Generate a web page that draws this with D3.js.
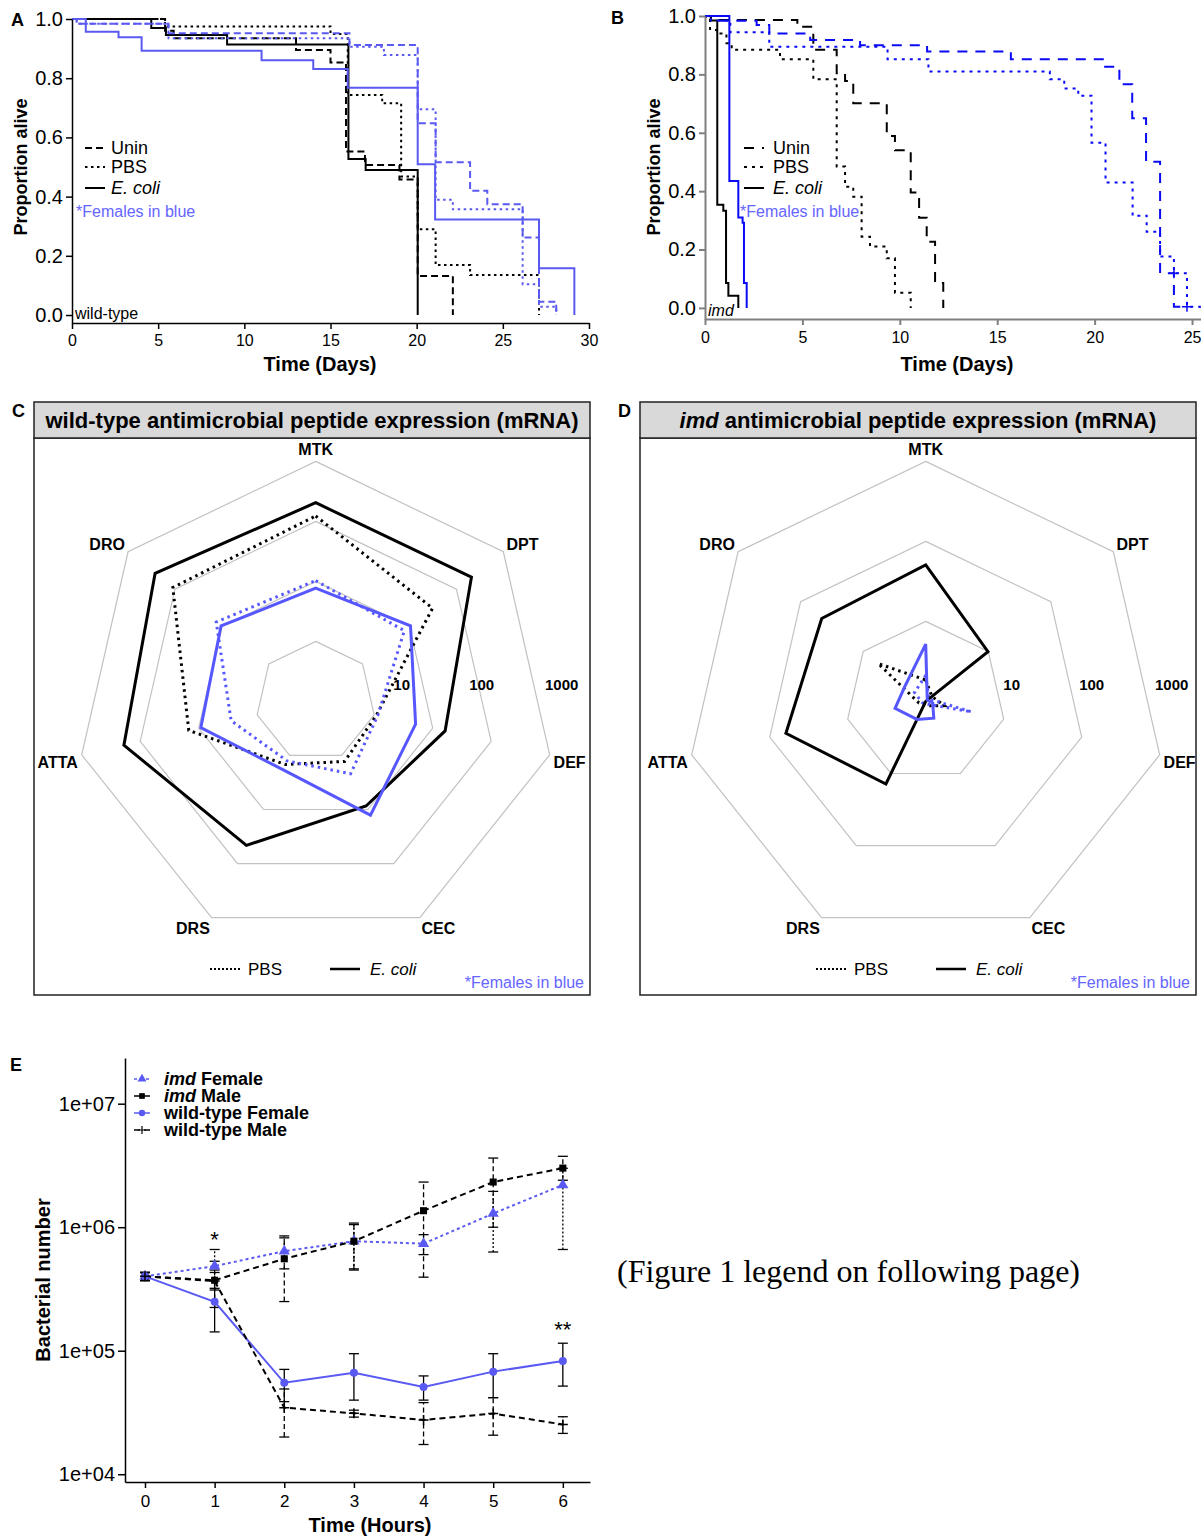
<!DOCTYPE html>
<html>
<head>
<meta charset="utf-8">
<script src="https://cdn.jsdelivr.net/npm/d3@7"></script>
<style>
  body { margin: 0; background: #fff; }
</style>
</head>
<body>
<svg id="fig" width="1201" height="1537"></svg>
<script>
// ---------------- data ----------------
// Panel A: wild-type survival (time in days, proportion alive)
const wtMaleUninT = [0, 5.4, 5.9, 13, 15, 15.9, 17, 19, 20.06, 22.1];
const wtMaleUninS = [1, 0.96, 0.935, 0.895, 0.853, 0.552, 0.507, 0.458, 0.132, 0];
const wtMalePbsT = [0, 5.4, 15, 16, 18, 19.1, 20.06, 21.1, 23.1, 27.1];
const wtMalePbsS = [1, 0.975, 0.949, 0.743, 0.715, 0.468, 0.29, 0.169, 0.135, 0];
const wtMaleEcoliT = [0, 4.6, 5.45, 9, 16.04, 17.04, 20.06];
const wtMaleEcoliS = [1, 0.97, 0.946, 0.914, 0.527, 0.49, 0];
const wtFemUninT = [0, 0.27, 5.6, 16.1, 20.06, 21.1, 23.1, 24.1, 26.15, 27.1, 28.1];
const wtFemUninS = [1, 0.984, 0.952, 0.912, 0.648, 0.516, 0.42, 0.374, 0.262, 0.045, 0];
const wtFemPbsT = [0, 0.27, 5.6, 16.1, 18.1, 20.06, 21.1, 22.1, 26.15, 27.1, 28.1];
const wtFemPbsS = [1, 0.984, 0.935, 0.906, 0.878, 0.695, 0.389, 0.357, 0.104, 0.028, 0];
const wtFemEcoliT = [0, 0.8, 2.7, 4.04, 11.0, 14.0, 16.0, 20.06, 21.07, 27.1, 29.15];
const wtFemEcoliS = [1, 0.957, 0.938, 0.893, 0.861, 0.831, 0.768, 0.509, 0.323, 0.158, 0];

// Panel B: imd survival
const imdMaleUninT = [0, 0.3, 4.74, 5.56, 6.76, 7.19, 7.61, 9.33, 9.75, 10.56, 10.99, 11.38, 11.81, 12.23];
const imdMaleUninS = [1, 0.986, 0.963, 0.884, 0.804, 0.777, 0.701, 0.589, 0.54, 0.395, 0.309, 0.227, 0.085, 0];
const imdMalePbsT = [0, 0.05, 0.26, 0.6, 1.1, 1.37, 3.85, 5.56, 6.76, 7.19, 7.61, 8.04, 8.47, 9.33, 9.75, 10.56];
const imdMalePbsS = [1, 0.99, 0.952, 0.94, 0.907, 0.884, 0.852, 0.783, 0.484, 0.415, 0.381, 0.244, 0.21, 0.17, 0.052, 0];
const imdMaleEcoliT = [0, 0.3, 0.63, 0.94, 1.08, 1.2, 1.71];
const imdMaleEcoliS = [1, 0.985, 0.353, 0.333, 0.085, 0.042, 0];
const imdFemUninT = [0, 0.5, 2.65, 3.3, 5.4, 7.96, 11.4, 15.7, 20.54, 21.27, 21.93, 22.64, 23.36, 24.07, 24.74];
const imdFemUninS = [1, 0.984, 0.969, 0.94, 0.918, 0.90, 0.878, 0.852, 0.826, 0.766, 0.65, 0.501, 0.119, 0.004, 0];
const imdFemPbsT = [0, 0.3, 1.3, 3.3, 9.37, 11.47, 17.7, 18.44, 19.16, 19.84, 20.56, 21.95, 22.67, 23.36, 24.07, 24.74, 25.4];
const imdFemPbsS = [1, 0.985, 0.944, 0.895, 0.852, 0.81, 0.783, 0.752, 0.727, 0.566, 0.43, 0.316, 0.261, 0.176, 0.119, 0.004, 0];
const imdFemEcoliT = [0, 1.25, 1.71, 1.93, 2.0, 2.14];
const imdFemEcoliS = [1, 0.435, 0.31, 0.292, 0.085, 0];
const imdFemCensorT = [24.07, 24.74];
const imdFemCensorS = [0.119, 0.004];

// Panels C, D: antimicrobial peptide expression (fold, log scale)
const apAxes = ["MTK", "DPT", "DEF", "CEC", "DRS", "ATTA", "DRO"];
const ringTicks = [10, 100, 1000];
const wtMaleEcoliAmp = [205, 209, 16.3, 8.6, 46, 190, 265];
const wtMalePbsAmp = [123, 31, 1.09, 1.29, 1.47, 14.8, 111];
const wtFemEcoliAmp = [7.7, 10.5, 5.1, 12.7, 1.83, 9.2, 10.4];
const wtFemPbsAmp = [10.3, 7.76, 1.15, 2.18, 1.26, 2.79, 13.2];
const imdMaleEcoliAmp = [50.7, 9.9, 1, 1, 14, 62, 46];
const imdMalePbsAmp = [1.85, 1.26, 1.73, 1.15, 1.12, 1.22, 5.74];
const imdFemEcoliAmp = [5.2, 1.06, 1.23, 1.71, 1.78, 2.47, 2.11];
const imdFemPbsAmp = [2.11, 1.12, 3.87, 1.09, 1.09, 1.12, 1.51];

// Panel E: bacterial load (hours)
const hours = [0, 1, 2, 3, 4, 5, 6];
const imdFem = [4.0e5, 4.84e5, 6.4e5, 7.7e5, 7.36e5, 1.29e6, 2.2e6];
const imdFemLo = [3.7e5, 5.3e5, 4.6e5, 4.5e5, 6.0e5, 6.3e5, 6.6e5];
const imdFemHi = [4.3e5, 6.6e5, 8.5e5, 1.08e6, 8.7e5, 1.95e6, 3.0e6];
const imdMale = [4.0e5, 3.72e5, 5.55e5, 7.7e5, 1.36e6, 2.32e6, 3.01e6];
const imdMaleLo = [3.7e5, 3.1e5, 2.5e5, 4.6e5, 3.94e5, 1.0e6, 2.4e6];
const imdMaleHi = [4.3e5, 4.5e5, 8.2e5, 1.05e6, 2.32e6, 3.63e6, 3.75e6];
const wtFem = [4.0e5, 2.49e5, 5.5e4, 6.64e4, 5.09e4, 6.77e4, 8.26e4];
const wtFemLo = [3.7e5, 1.42e5, 3.87e4, 3.98e4, 3.98e4, 4.17e4, 5.17e4];
const wtFemHi = [4.3e5, 3.2e5, 7.06e4, 9.46e4, 6.25e4, 9.46e4, 1.15e5];
const wtMale = [4.0e5, 3.66e5, 3.46e4, 3.11e4, 2.75e4, 3.1e4, 2.53e4];
const wtMaleLo = [3.7e5, 2.24e5, 2.0e4, 2.9e4, 1.74e4, 2.07e4, 2.14e4];
const wtMaleHi = [4.3e5, 4.3e5, 4.9e4, 3.3e4, 3.8e4, 4.17e4, 2.92e4];

// ---------------- setup ----------------
const FONT = "'Liberation Sans', Arial, Helvetica, sans-serif";
const BLUE = "#5a5af2";
const BLUE_B = "#0a0af5";
const BLUE_R = "#5757ff";
const svg = d3.select("#fig").attr("font-family", FONT);

function axisLook(g, color, width, fs) {
  g.attr("font-family", FONT).attr("font-size", fs);
  g.select(".domain").attr("stroke", color).attr("stroke-width", width);
  g.selectAll(".tick line").attr("stroke", color).attr("stroke-width", width);
  g.selectAll(".tick text").attr("fill", "#000");
}

function label(x, y, txt, size, opts = {}) {
  return svg.append("text").attr("x", x).attr("y", y).text(txt)
    .attr("font-size", size)
    .attr("font-weight", opts.bold ? "bold" : null)
    .attr("font-style", opts.italic ? "italic" : null)
    .attr("text-anchor", opts.anchor || "start")
    .attr("fill", opts.fill || "#000");
}

// Kaplan-Meier style step curves
function kmCurves(x, y, series) {
  const line = d3.line().x(d => x(d[0])).y(d => y(d[1])).curve(d3.curveStepAfter);
  series.forEach(s => {
    svg.append("path")
      .datum(s.t.map((t, i) => [t, s.s[i]]))
      .attr("d", line)
      .attr("fill", "none")
      .attr("stroke", s.color)
      .attr("stroke-width", s.w)
      .attr("stroke-dasharray", s.dash);
  });
}

function kmLegend(x0, textX, dashes) {
  const rows = [["Unin", dashes[0], false, 148], ["PBS", dashes[1], false, 167], ["E. coli", null, true, 188]];
  rows.forEach(([name, dash, ital, yy]) => {
    svg.append("line").attr("x1", x0).attr("x2", x0 + 20).attr("y1", yy).attr("y2", yy)
      .attr("stroke", "#000").attr("stroke-width", 2).attr("stroke-dasharray", dash);
    label(textX, yy + 6, name, 18, { italic: ital });
  });
}

// ---------------- Panel A ----------------
const xA = d3.scaleLinear().domain([0, 30]).range([72, 589]);
const yA = d3.scaleLinear().domain([-0.027, 1]).range([323, 19]);
const dashA = "7,4", dotA = "2.5,3.5";
kmCurves(xA, yA, [
  { t: wtMaleUninT, s: wtMaleUninS, color: "#000", dash: dashA, w: 2 },
  { t: wtMalePbsT, s: wtMalePbsS, color: "#000", dash: dotA, w: 2 },
  { t: wtMaleEcoliT, s: wtMaleEcoliS, color: "#000", dash: null, w: 2 },
  { t: wtFemUninT, s: wtFemUninS, color: BLUE, dash: dashA, w: 2 },
  { t: wtFemPbsT, s: wtFemPbsS, color: BLUE, dash: dotA, w: 2 },
  { t: wtFemEcoliT, s: wtFemEcoliS, color: BLUE, dash: null, w: 2 }
]);
svg.append("g").attr("transform", "translate(0,323)")
  .call(d3.axisBottom(xA).tickValues(d3.range(0, 31, 5)).tickSize(6).tickSizeOuter(0).tickPadding(6))
  .call(g => axisLook(g, "#000", 1.5, 16));
svg.append("g").attr("transform", "translate(72,0)")
  .call(d3.axisLeft(yA).tickValues([0, 0.2, 0.4, 0.6, 0.8, 1]).tickFormat(d3.format(".1f")).tickSize(6).tickSizeOuter(0).tickPadding(3))
  .call(g => axisLook(g, "#000", 1.5, 20));
label(320, 371, "Time (Days)", 20, { bold: true, anchor: "middle" });
label(0, 0, "Proportion alive", 18, { bold: true, anchor: "middle" })
  .attr("transform", "translate(27,167) rotate(-90)");
kmLegend(85, 111, [dashA, dotA]);
label(76, 217, "*Females in blue", 16, { fill: "#6565ff" });
label(75, 319, "wild-type", 16);
label(11, 26, "A", 18, { bold: true });

// ---------------- Panel B ----------------
const xB = d3.scaleLinear().domain([0, 25.46]).range([705, 1201]);
const yB = d3.scaleLinear().domain([-0.038, 1]).range([319, 16]);
const dashB = "10,8", dotB = "3,5";
kmCurves(xB, yB, [
  { t: imdMaleUninT, s: imdMaleUninS, color: "#000", dash: dashB, w: 2 },
  { t: imdMalePbsT, s: imdMalePbsS, color: "#000", dash: dotB, w: 2 },
  { t: imdMaleEcoliT, s: imdMaleEcoliS, color: "#000", dash: null, w: 2 },
  { t: imdFemUninT, s: imdFemUninS, color: BLUE_B, dash: dashB, w: 2 },
  { t: imdFemPbsT, s: imdFemPbsS, color: BLUE_B, dash: dotB, w: 2 },
  { t: imdFemEcoliT, s: imdFemEcoliS, color: BLUE_B, dash: null, w: 2 }
]);
svg.selectAll(".censor").data(imdFemCensorT).enter().append("path")
  .attr("transform", (d, i) => `translate(${xB(d)},${yB(imdFemCensorS[i])})`)
  .attr("d", "M-5,0H5M0,-5V5").attr("stroke", BLUE_B).attr("stroke-width", 1.5);
svg.append("g").attr("transform", "translate(0,319)")
  .call(d3.axisBottom(xB).tickValues(d3.range(0, 26, 5)).tickSize(6).tickSizeOuter(0).tickPadding(7))
  .call(g => axisLook(g, "#808080", 2, 16));
svg.append("g").attr("transform", "translate(705,0)")
  .call(d3.axisLeft(yB).tickValues([0, 0.2, 0.4, 0.6, 0.8, 1]).tickFormat(d3.format(".1f")).tickSize(6).tickSizeOuter(0).tickPadding(3))
  .call(g => axisLook(g, "#808080", 2, 20));
label(957, 371, "Time (Days)", 20, { bold: true, anchor: "middle" });
label(0, 0, "Proportion alive", 18, { bold: true, anchor: "middle" })
  .attr("transform", "translate(660,167) rotate(-90)");
kmLegend(744, 773, [dashB, dotB]);
label(740, 217, "*Females in blue", 16, { fill: "#6565ff" });
label(708, 316, "imd", 16, { italic: true });
label(611, 24, "B", 18, { bold: true });

// ---------------- Panels C and D: radar charts ----------------
const ringLabelPos = d3.scaleLog().domain([1, 1000]).range([0, 240]);

function radarPanel(left, letter, titleParts, cx, cy, rScale, rings, series) {
  // frame + header
  svg.append("rect").attr("x", left).attr("y", 438).attr("width", 556).attr("height", 557)
    .attr("fill", "none").attr("stroke", "#222").attr("stroke-width", 1.5);
  svg.append("rect").attr("x", left).attr("y", 402).attr("width", 556).attr("height", 36)
    .attr("fill", "#d9d9d9").attr("stroke", "#222").attr("stroke-width", 1.5);
  const t = svg.append("text").attr("x", left + 278).attr("y", 428)
    .attr("text-anchor", "middle").attr("font-size", 22).attr("font-weight", "bold");
  titleParts.forEach(([s, ital]) => t.append("tspan").attr("font-style", ital ? "italic" : null).text(s));
  label(left - 22, 417, letter, 18, { bold: true });

  const g = svg.append("g").attr("transform", `translate(${cx},${cy})`);
  const ang = i => i * 2 * Math.PI / apAxes.length;
  const radial = d3.lineRadial().angle((d, i) => ang(i)).curve(d3.curveLinearClosed);

  rings.forEach(v => {
    g.append("path").attr("d", radial.radius(() => rScale(v))(apAxes))
      .attr("fill", "none").attr("stroke", "#c2c2c2").attr("stroke-width", 1.2);
  });
  apAxes.forEach((name, i) => {
    const sx = Math.sin(ang(i));
    g.append("text").attr("x", 244 * sx).attr("y", -252 * Math.cos(ang(i)) + (Math.abs(sx) > 0.9 ? 5 : 0))
      .attr("text-anchor", sx > 0.1 ? "start" : sx < -0.1 ? "end" : "middle")
      .attr("dominant-baseline", "central")
      .attr("font-size", 16).attr("font-weight", "bold").text(name);
  });
  ringTicks.forEach(v => {
    g.append("text").attr("x", ringLabelPos(v) + 6).attr("y", -11)
      .attr("text-anchor", "middle").attr("font-size", 15).attr("font-weight", "bold").text(v);
  });
  series.forEach(s => {
    g.append("path").datum(s.values)
      .attr("d", radial.radius(d => rScale(d)))
      .attr("fill", "none").attr("stroke", s.color).attr("stroke-width", 3)
      .attr("stroke-linejoin", "miter").attr("stroke-dasharray", s.dash);
  });

  // legend
  const ly = 969;
  svg.append("line").attr("x1", left + 176).attr("x2", left + 206).attr("y1", ly).attr("y2", ly)
    .attr("stroke", "#000").attr("stroke-width", 2).attr("stroke-dasharray", "2,2");
  label(left + 214, ly + 6, "PBS", 17);
  svg.append("line").attr("x1", left + 296).attr("x2", left + 326).attr("y1", ly).attr("y2", ly)
    .attr("stroke", "#000").attr("stroke-width", 2.5);
  label(left + 336, ly + 6, "E. coli", 17, { italic: true });
  label(left + 550, 988, "*Females in blue", 16, { fill: "#6565ff", anchor: "end" });
}

const dotR = "2.5,4";
radarPanel(34, "C", [["wild-type antimicrobial peptide expression (mRNA)", false]],
  315.7, 701.4, d3.scaleLog().domain([0.1, 1000]).range([0, 240]), [1, 10, 100, 1000], [
    { values: wtMalePbsAmp, color: "#000", dash: dotR },
    { values: wtFemPbsAmp, color: BLUE_R, dash: dotR },
    { values: wtMaleEcoliAmp, color: "#000", dash: null },
    { values: wtFemEcoliAmp, color: BLUE_R, dash: null }
  ]);
radarPanel(640, "D", [["imd", true], [" antimicrobial peptide expression (mRNA)", false]],
  925.7, 701.4, d3.scaleLog().domain([1, 1000]).range([0, 240]), [10, 100, 1000], [
    { values: imdMalePbsAmp, color: "#000", dash: dotR },
    { values: imdFemPbsAmp, color: BLUE_R, dash: dotR },
    { values: imdMaleEcoliAmp, color: "#000", dash: null },
    { values: imdFemEcoliAmp, color: BLUE_R, dash: null }
  ]);

// ---------------- Panel E: bacterial load ----------------
const xE = d3.scaleLinear().domain([-0.287, 6.39]).range([125, 590]);
const yE = d3.scaleLog().domain([Math.pow(10, 3.937), Math.pow(10, 7.37)]).range([1482, 1058]);

const eSeries = [
  { name: "Female", pre: "imd ", v: imdFem, lo: imdFemLo, hi: imdFemHi, color: BLUE, dash: "3,3", err: "2,2", sym: "tri" },
  { name: "Male", pre: "imd ", v: imdMale, lo: imdMaleLo, hi: imdMaleHi, color: "#000", dash: "6,4", err: "5,3", sym: "sq" },
  { name: "wild-type Female", pre: "", v: wtFem, lo: wtFemLo, hi: wtFemHi, color: BLUE, dash: null, err: null, sym: "circ" },
  { name: "wild-type Male", pre: "", v: wtMale, lo: wtMaleLo, hi: wtMaleHi, color: "#000", dash: "6,4", err: "5,3", sym: "plus" }
];

function marker(sel, sym, color) {
  if (sym === "tri") sel.append("path").attr("d", d3.symbol(d3.symbolTriangle, 55)()).attr("fill", color);
  if (sym === "sq") sel.append("path").attr("d", d3.symbol(d3.symbolSquare, 50)()).attr("fill", color);
  if (sym === "circ") sel.append("circle").attr("r", 4).attr("fill", color);
  if (sym === "plus") sel.append("path").attr("d", "M-5,0H5M0,-5V5").attr("stroke", color).attr("stroke-width", 1.5);
}

// error bars
eSeries.forEach(s => {
  const eg = svg.append("g").attr("stroke", "#000").attr("stroke-width", 1.3).attr("stroke-dasharray", s.err);
  hours.forEach((h, i) => {
    eg.append("line").attr("x1", xE(h)).attr("x2", xE(h)).attr("y1", yE(s.lo[i])).attr("y2", yE(s.hi[i]));
    [s.lo[i], s.hi[i]].forEach(v => eg.append("line").attr("x1", xE(h) - 5).attr("x2", xE(h) + 5)
      .attr("y1", yE(v)).attr("y2", yE(v)).attr("stroke-dasharray", "none"));
  });
});
// lines + markers
eSeries.forEach(s => {
  svg.append("path").datum(s.v)
    .attr("d", d3.line().x((d, i) => xE(hours[i])).y(d => yE(d)))
    .attr("fill", "none").attr("stroke", s.color).attr("stroke-width", 2).attr("stroke-dasharray", s.dash);
});
eSeries.forEach(s => {
  s.v.forEach((d, i) => marker(svg.append("g").attr("transform", `translate(${xE(hours[i])},${yE(d)})`), s.sym, s.color));
});

svg.append("g").attr("transform", "translate(0,1482)")
  .call(d3.axisBottom(xE).tickValues(hours).tickFormat(d3.format("d")).tickSize(6).tickSizeOuter(0).tickPadding(7))
  .call(g => axisLook(g, "#000", 1.5, 17));
svg.append("g").attr("transform", "translate(125,0)")
  .call(d3.axisLeft(yE).tickValues([1e4, 1e5, 1e6, 1e7])
    .tickFormat(d => "1e+" + String(Math.round(Math.log10(d))).padStart(2, "0"))
    .tickSize(7).tickSizeOuter(0).tickPadding(3))
  .call(g => axisLook(g, "#000", 1.5, 20));

label(370, 1532, "Time (Hours)", 20, { bold: true, anchor: "middle" });
label(0, 0, "Bacterial number", 20, { bold: true, anchor: "middle" })
  .attr("transform", "translate(50,1280) rotate(-90)");
label(xE(1), yE(6.6e5) - 2, "*", 22, { anchor: "middle" });
label(xE(6), yE(1.15e5) - 6, "**", 22, { anchor: "middle" });

// legend
eSeries.forEach((s, i) => {
  const yy = 1079 + i * 17;
  svg.append("line").attr("x1", 134).attr("x2", 150).attr("y1", yy).attr("y2", yy)
    .attr("stroke", s.color).attr("stroke-width", 1.5).attr("stroke-dasharray", s.dash || null);
  const mg = svg.append("g").attr("transform", `translate(142,${yy}) scale(0.8)`);
  marker(mg, s.sym, s.color);
  const t = svg.append("text").attr("x", 164).attr("y", yy + 6).attr("font-size", 18).attr("font-weight", "bold");
  if (s.pre) t.append("tspan").attr("font-style", "italic").text(s.pre);
  t.append("tspan").text(s.name);
});
label(10, 1071, "E", 18, { bold: true });

// page note
svg.append("text").attr("x", 617).attr("y", 1282).attr("font-family", "'Liberation Serif', 'Times New Roman', serif")
  .attr("font-size", 32).text("(Figure 1 legend on following page)");
</script>
</body>
</html>
